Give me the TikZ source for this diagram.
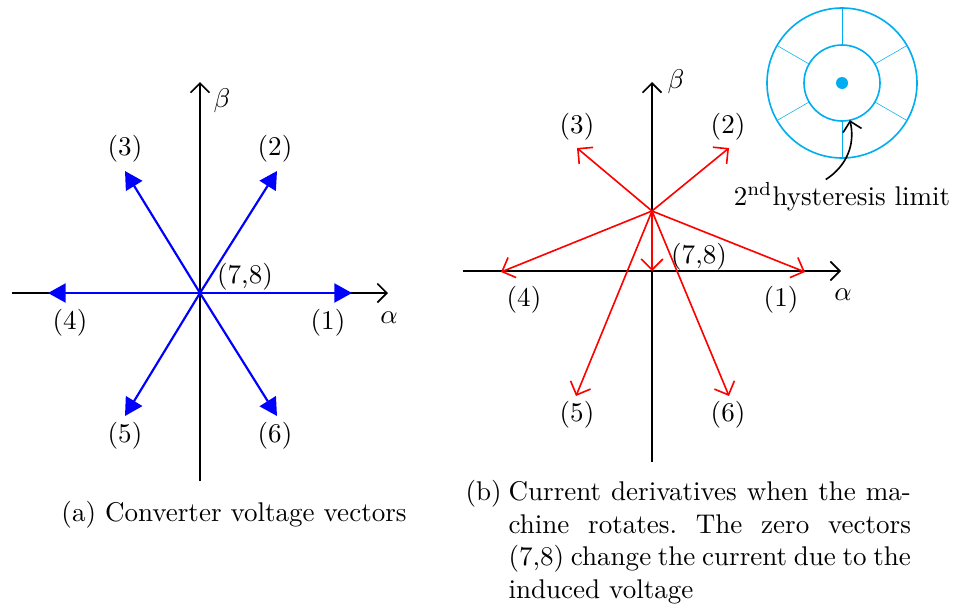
\documentclass[tikz,border=0pt]{standalone}
\usepackage{amsmath}
\usepackage{xcolor}
\usetikzlibrary{arrows.meta, positioning, calc}
\definecolor{hystblue}{RGB}{0,174,239}
\tikzset{
    vectordiagram/.style={x=0.013cm, y=-0.013cm},
    axis/.style={semithick, -{Straight Barb[length=3.5pt, width=7pt]}},
    voltvec/.style={blue, thick, -{Triangle[length=6.5pt, width=7pt]}},
    derivvec/.style={red, semithick, -{Straight Barb[length=4pt, width=8pt]}},
    veclabel/.style={inner sep=1pt},
    hyst/.style={hystblue, semithick},
    spoke/.style={hystblue, very thin},
    % captions below the two plots
    caption/.style={inner sep=0pt},
}
\begin{document}
\begin{tikzpicture}[vectordiagram]
    \useasboundingbox (0,0) rectangle (964,603);

    % (a) converter voltage vectors
    \coordinate (oa)  at (200,293);
    \coordinate (xa0) at (12,293);
    \coordinate (xa1) at (388,293);
    \coordinate (ya0) at (200,481);
    \coordinate (ya1) at (200,82);
    \draw[axis] (xa0) -- (xa1);
    \draw[axis] (ya0) -- (ya1);
    \node (alphaa) at (389,318) {$\alpha$};
    \node (betaa)  at (222,101) {$\beta$};

    \coordinate (va1) at (352,293);
    \coordinate (va2) at (277,171);
    \coordinate (va3) at (125,171);
    \coordinate (va4) at (48,293);
    \coordinate (va5) at (125,416);
    \coordinate (va6) at (277,416);
    \foreach \i in {1,...,6}
        \draw[voltvec] (oa) -- (va\i);

    \node[veclabel] (la1) at (328,323) {(1)};
    \node[veclabel] (la2) at (275,149) {(2)};
    \node[veclabel] (la3) at (125,149) {(3)};
    \node[veclabel] (la4) at (70,323)  {(4)};
    \node[veclabel] (la5) at (125,436) {(5)};
    \node[veclabel] (la6) at (275,436) {(6)};
    \node[veclabel] (la0) at (245,277) {(7,8)};

    % (b) current derivatives
    \coordinate (ob)  at (652,271);
    \coordinate (sb)  at (652,211);
    \coordinate (xb0) at (463,271);
    \coordinate (xb1) at (841,271);
    \coordinate (yb0) at (652,462);
    \coordinate (yb1) at (652,82);
    \draw[axis] (xb0) -- (xb1);
    \draw[axis] (yb0) -- (yb1);
    \node (alphab) at (843,295) {$\alpha$};
    \node (betab)  at (676,82)  {$\beta$};

    \coordinate (vb1) at (805,272);
    \coordinate (vb2) at (729,148);
    \coordinate (vb3) at (577,148);
    \coordinate (vb4) at (501,272);
    \coordinate (vb5) at (576,396);
    \coordinate (vb6) at (729,396);
    \foreach \i in {1,...,6}
        \draw[derivvec] (sb) -- (vb\i);
    \draw[derivvec] (sb) -- (ob);

    \node[veclabel] (lb1) at (781,300) {(1)};
    \node[veclabel] (lb2) at (728,127) {(2)};
    \node[veclabel] (lb3) at (577,127) {(3)};
    \node[veclabel] (lb4) at (524,300) {(4)};
    \node[veclabel] (lb5) at (577,415) {(5)};
    \node[veclabel] (lb6) at (728,415) {(6)};
    \node[veclabel] (lb0) at (699,257) {(7,8)};

    % hysteresis limits
    \coordinate (hc) at (842,83);
    \draw[hyst] (hc) circle[radius=75];
    \draw[hyst] (hc) circle[radius=38];
    \fill[hystblue] (hc) circle[radius=6];
    \foreach \a in {30,90,150,210,270,330}
        \draw[spoke] ($(hc)+(\a:38)$) -- ($(hc)+(\a:75)$);
    \coordinate (innerbot) at ($(hc)+(78:38)$);
    \node[inner sep=1pt] (hystlabel) at (842,197) {$2^{\text{nd}}$hysteresis limit};
    \draw[semithick, -{Straight Barb[length=3.5pt, width=7pt]}]
        ([xshift=-6]hystlabel.north) to[bend right=35] (innerbot);

    % captions
    \node (capa) at (234,515) {(a) Converter voltage vectors};
    \node[caption, anchor=north west] (capb) at (465,480)
        {\makebox[0.56cm][l]{(b)}\parbox[t]{5.23cm}{\frenchspacing
         Current derivatives when the ma-\linebreak
         chine rotates. The zero vectors\linebreak
         (7,8) change the current due to the\linebreak
         induced voltage}};
\end{tikzpicture}
\end{document}
